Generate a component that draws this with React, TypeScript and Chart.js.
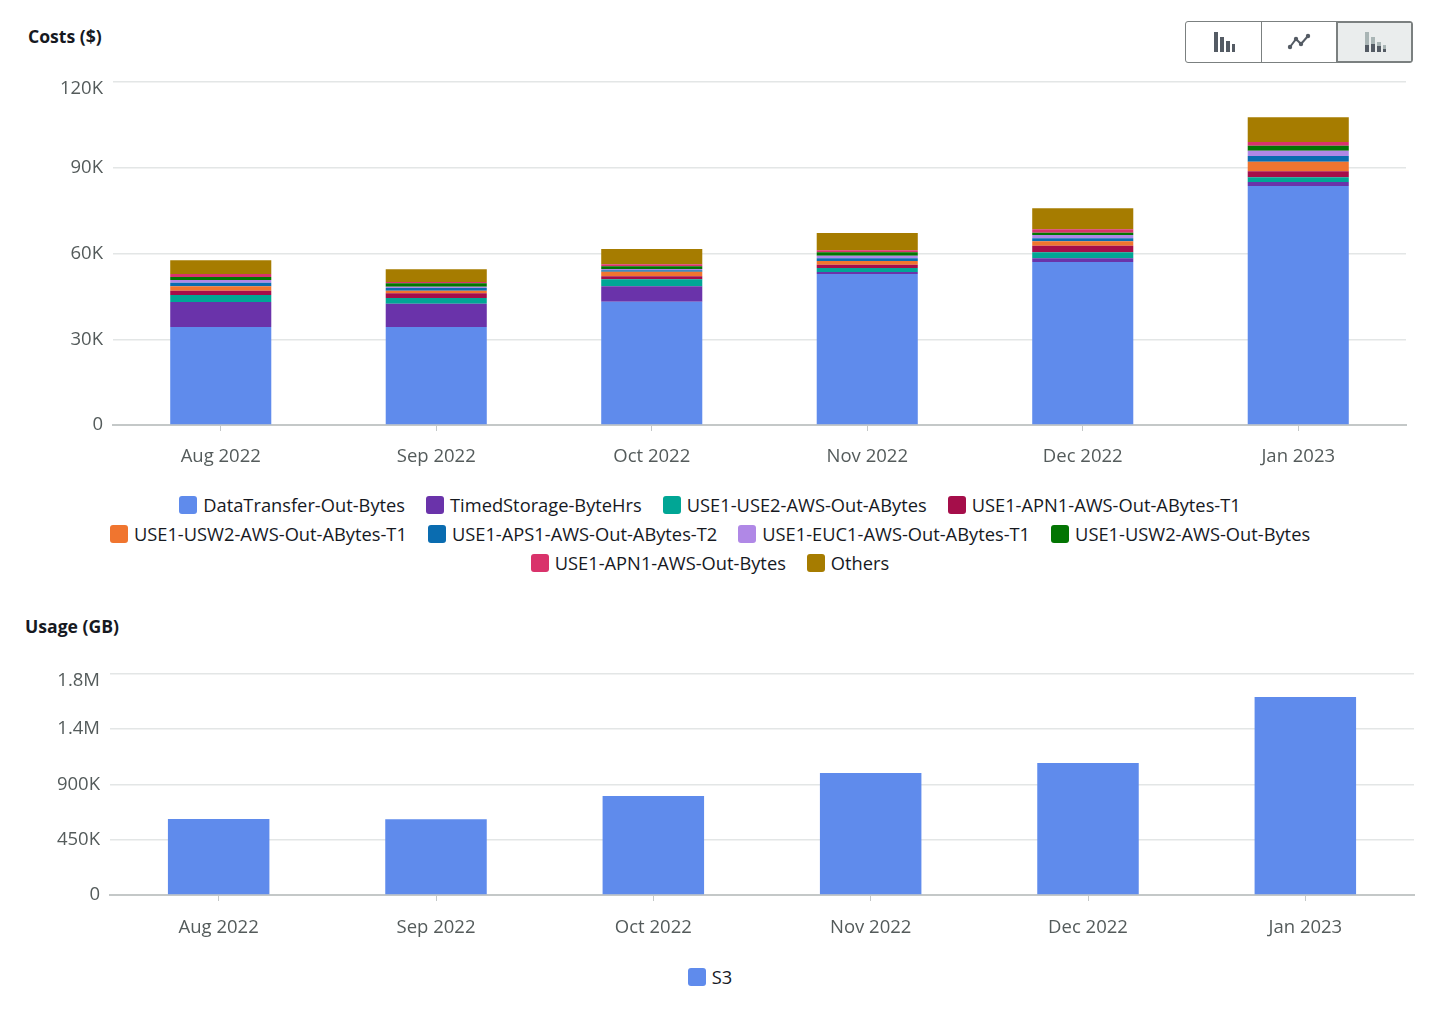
import { useEffect, useRef } from 'react';
import { Chart, registerables } from 'chart.js';

Chart.register(...registerables);

const months = ['Aug 2022', 'Sep 2022', 'Oct 2022', 'Nov 2022', 'Dec 2022', 'Jan 2023'];

// costs, in $K
const dataTransfer = [34.3, 34.3, 43.15, 52.85, 57.05, 83.6];
const timedStorage = [8.7, 8.15, 5.4, 0.7, 1.3, 1.4];
const use2Out = [2.45, 2.0, 2.45, 1.4, 2.1, 1.65];
const apn1OutT1 = [1.5, 1.65, 1.05, 1.15, 2.3, 2.1];
const usw2OutT1 = [1.55, 0.9, 1.6, 1.3, 1.55, 3.35];
const aps1OutT2 = [1.25, 0.95, 0.5, 0.95, 1.05, 2.0];
const euc1OutT1 = [0.95, 0.45, 0.45, 0.9, 1.15, 1.85];
const usw2Bytes = [1.05, 1.2, 0.95, 1.2, 0.8, 1.75];
const apn1Bytes = [1.05, 0.45, 0.7, 0.7, 1.2, 1.3];
const others = [4.8, 4.45, 5.35, 6.05, 7.35, 8.65];

const costSeries = [
  { label: 'DataTransfer-Out-Bytes', color: '#5f8bec', values: dataTransfer },
  { label: 'TimedStorage-ByteHrs', color: '#6a33aa', values: timedStorage },
  { label: 'USE1-USE2-AWS-Out-ABytes', color: '#01a695', values: use2Out },
  { label: 'USE1-APN1-AWS-Out-ABytes-T1', color: '#a50e4a', values: apn1OutT1 },
  { label: 'USE1-USW2-AWS-Out-ABytes-T1', color: '#f0752f', values: usw2OutT1 },
  { label: 'USE1-APS1-AWS-Out-ABytes-T2', color: '#0a6cb0', values: aps1OutT2 },
  { label: 'USE1-EUC1-AWS-Out-ABytes-T1', color: '#b088e6', values: euc1OutT1 },
  { label: 'USE1-USW2-AWS-Out-Bytes', color: '#037503', values: usw2Bytes },
  { label: 'USE1-APN1-AWS-Out-Bytes', color: '#d9336b', values: apn1Bytes },
  { label: 'Others', color: '#a67c00', values: others },
];

const costTicks = ['0', '30K', '60K', '90K', '120K'];

// usage, in GB
const s3Usage = [617000, 616000, 804000, 991000, 1072000, 1609000];
const usageSeries = [{ label: 'S3', color: '#5f8bec', values: s3Usage }];
const usageTicks = ['0', '450K', '900K', '1.4M', '1.8M'];

const FONT = '"Open Sans", sans-serif';
const AXIS_TEXT = '#545b5b';

type Series = { label: string; color: string; values: number[] };

type PanelProps = {
  series: Series[];
  tickLabels: string[];
  step: number;
  top: number;
  height: number;
  plotLeft: number;
  plotRight: number;
  plotTop: number;
  barShare: number;
  monthPad: number;
};

function BarPanel({ series, tickLabels, step, top, height, plotLeft, plotRight, plotTop, barShare, monthPad }: PanelProps) {
  const canvasRef = useRef<HTMLCanvasElement>(null);

  useEffect(() => {
    if (!canvasRef.current) return;

    const chart = new Chart(canvasRef.current, {
      type: 'bar',
      data: {
        labels: months,
        datasets: series.map(s => ({
          label: s.label,
          data: s.values,
          backgroundColor: s.color,
          borderWidth: 0,
          barPercentage: 1,
          categoryPercentage: barShare,
        })),
      },
      options: {
        responsive: false,
        animation: false,
        layout: { padding: { top: plotTop - top, right: 1440 - plotRight, left: 0, bottom: 0 } },
        plugins: { legend: { display: false }, title: { display: false }, tooltip: { enabled: false } },
        scales: {
          x: {
            stacked: true,
            afterFit: (scale: any) => { scale.height = 45; },
            grid: { offset: false, drawOnChartArea: false, drawTicks: true, tickLength: 6, color: '#c4c8c8' },
            border: { color: '#c4c8c8', width: 2 },
            ticks: { color: AXIS_TEXT, font: { family: FONT, size: 18.5 }, padding: monthPad, maxRotation: 0 },
          },
          y: {
            stacked: true,
            min: 0,
            max: step * (tickLabels.length - 1),
            afterFit: (scale: any) => {
              scale.width = plotLeft;
              // keep the plot edges fixed whatever the height of the end labels
              scale.paddingTop = 0;
              scale.paddingBottom = 0;
            },
            grid: { color: '#e3e6e6', lineWidth: 1.5, drawTicks: false },
            border: { display: false },
            ticks: {
              stepSize: step,
              color: AXIS_TEXT,
              padding: 10,
              font: { family: FONT, size: 18.5, lineHeight: '14px' },
              // the top label sits a little below its grid line: a blank first line pushes it down
              callback: (_v: any, i: number) => (i === tickLabels.length - 1 ? ['', tickLabels[i]] : tickLabels[i]),
            },
          },
        },
      },
    });

    return () => {
      chart.destroy();
    };
  }, []);

  return (
    <canvas
      ref={canvasRef}
      width={1440}
      height={height}
      style={{ position: 'absolute', left: 0, top, width: 1440, height, display: 'block' }}
    />
  );
}

function Legend({ items, top }: { items: Series[]; top: number }) {
  return (
    <div
      style={{
        position: 'absolute',
        left: 90,
        top,
        width: 1240,
        display: 'flex',
        flexWrap: 'wrap',
        justifyContent: 'center',
        columnGap: 21,
        fontFamily: FONT,
        fontSize: 18.3,
        color: '#16191f',
      }}
    >
      {items.map(item => (
        <div key={item.label} style={{ display: 'flex', alignItems: 'center', height: 29, whiteSpace: 'nowrap' }}>
          <span style={{ width: 18, height: 18, borderRadius: 3, background: item.color, marginRight: 6 }} />
          {item.label}
        </div>
      ))}
    </div>
  );
}

function ChartTypeButtons() {
  const cell = { height: 40, display: 'flex', alignItems: 'center', justifyContent: 'center' };
  const dark = '#545b64';
  return (
    <div
      style={{
        position: 'absolute',
        left: 1185,
        top: 21,
        display: 'flex',
        border: '1px solid #7b8080',
        borderRadius: 3,
        background: '#fff',
      }}
    >
      <div style={{ ...cell, width: 75, borderRight: '1px solid #7b8080' }}>
        <svg width="24" height="24">
          <rect x="2" y="2" width="4" height="20" fill={dark} />
          <rect x="8" y="7" width="4" height="15" fill={dark} />
          <rect x="14" y="11" width="4" height="11" fill={dark} />
          <rect x="20" y="14" width="3" height="8" fill={dark} />
        </svg>
      </div>
      <div style={{ ...cell, width: 74, borderRight: '1px solid #7b8080' }}>
        <svg width="24" height="24">
          <polyline points="3,17 9,9 14,14 21,6" fill="none" stroke={dark} strokeWidth="2" />
          <circle cx="3" cy="17" r="2.2" fill={dark} />
          <circle cx="9" cy="9" r="2.2" fill={dark} />
          <circle cx="14" cy="14" r="2.2" fill={dark} />
          <circle cx="21" cy="6" r="2.2" fill={dark} />
        </svg>
      </div>
      <div style={{ ...cell, width: 75, background: '#eaeded', boxShadow: 'inset 0 0 0 1px #7b8080' }}>
        <svg width="24" height="24">
          <rect x="2" y="2" width="4" height="13" fill="#a9b5b5" />
          <rect x="2" y="15" width="4" height="7" fill={dark} />
          <rect x="8" y="7" width="4" height="7" fill="#a9b5b5" />
          <rect x="8" y="14" width="4" height="8" fill={dark} />
          <rect x="14" y="12" width="4" height="4" fill="#a9b5b5" />
          <rect x="14" y="16" width="4" height="6" fill={dark} />
          <rect x="20" y="15" width="3" height="4" fill="#a9b5b5" />
          <rect x="20" y="19" width="3" height="3" fill={dark} />
        </svg>
      </div>
    </div>
  );
}

const titleStyle = {
  position: 'absolute' as const,
  fontFamily: FONT,
  fontSize: 17.6,
  fontWeight: 700,
  lineHeight: '24px',
  color: '#16191f',
};

export default function App() {
  return (
    <div style={{ position: 'fixed', left: 0, top: 0, width: 1440, height: 1012, background: '#fff', overflow: 'hidden' }}>
      <div style={{ ...titleStyle, left: 28, top: 24 }}>Costs ($)</div>
      <ChartTypeButtons />
      <BarPanel
        series={costSeries}
        tickLabels={costTicks}
        step={30}
        top={60}
        height={410}
        plotLeft={113}
        plotRight={1406}
        plotTop={82}
        barShare={0.469}
        monthPad={15}
      />
      <Legend items={costSeries} top={490} />
      <div style={{ ...titleStyle, left: 25, top: 614 }}>Usage (GB)</div>
      <BarPanel
        series={usageSeries}
        tickLabels={usageTicks}
        step={450000}
        top={650}
        height={290}
        plotLeft={110}
        plotRight={1414}
        plotTop={673.5}
        barShare={0.467}
        monthPad={16}
      />
      <Legend items={usageSeries} top={962} />
    </div>
  );
}
